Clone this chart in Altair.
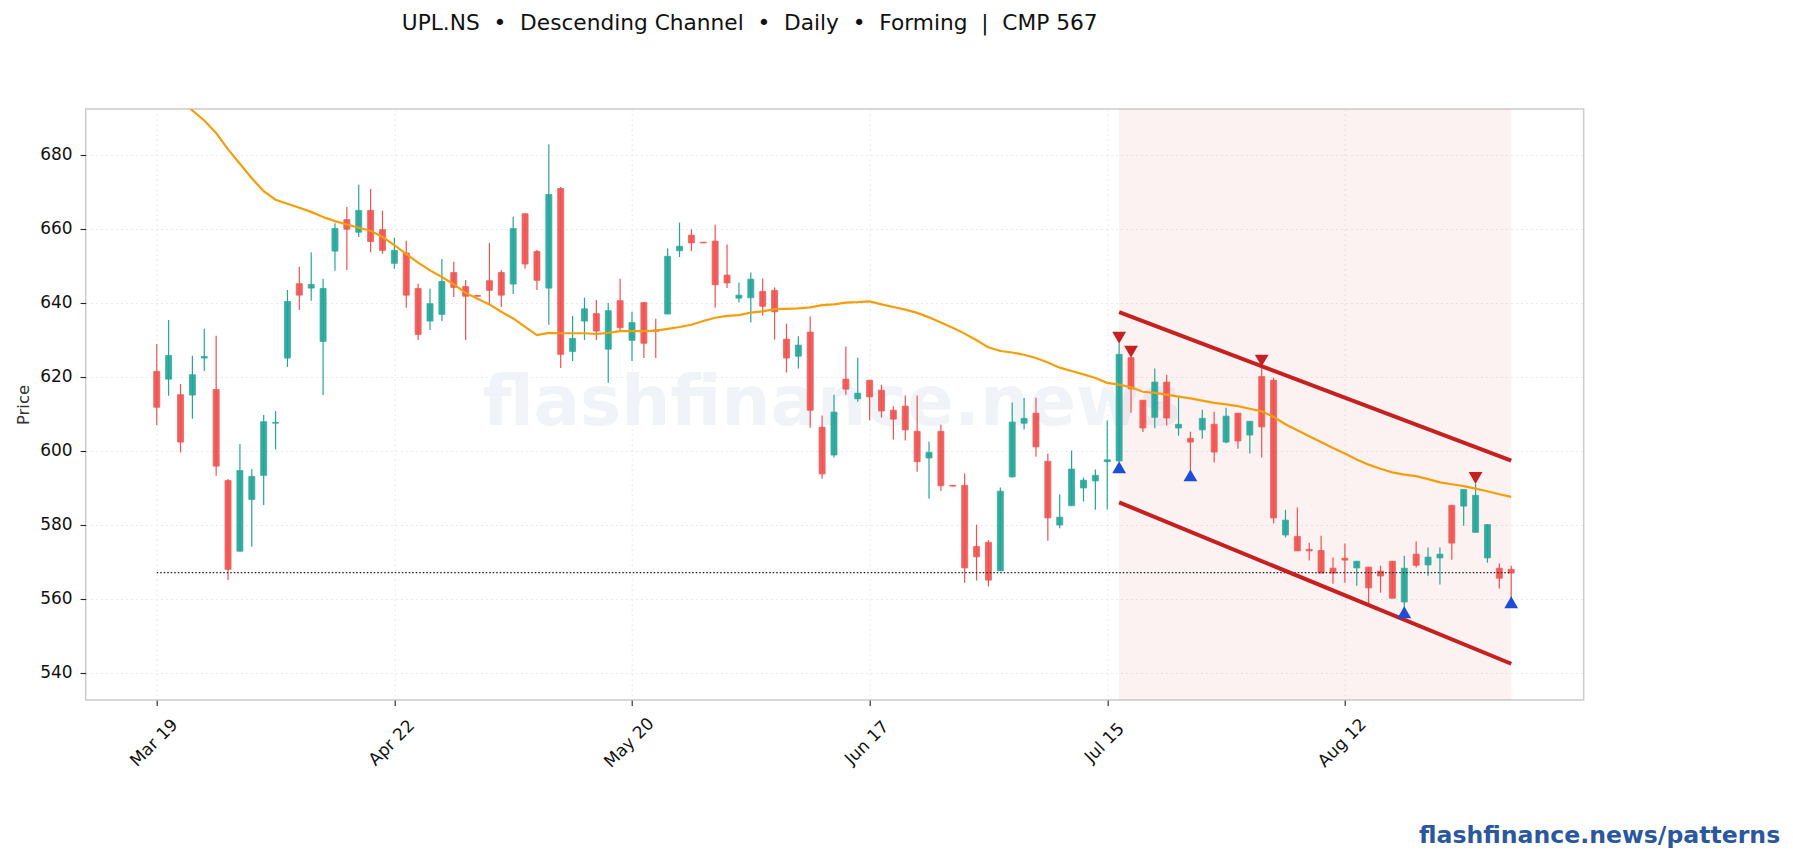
import json
import pandas as pd
import altair as alt

FONT = 'DejaVu Sans'
UP = '#26A69A'
DOWN = '#EF5350'

NB = '\u00a0'
TITLE = f'UPL.NS{NB}{NB}\u2022{NB}{NB}Descending Channel{NB}{NB}\u2022{NB}{NB}Daily{NB}{NB}\u2022{NB}{NB}Forming{NB}{NB}|{NB}{NB}CMP 567'
DATE_LABELS = ['Mar 19', 'Apr 22', 'May 20', 'Jun 17', 'Jul 15', 'Aug 12']
CMP = 567

# candle direction, one letter per session
dirs = list(
    'RGRGGRRGGGGGRGGGRGRRGRRGGRRRRRGRRGRGGRGRGRR'
    'GGRRRRGGRRRGRRGRGRRRRRGRRRRRGGGRRGGGGGGRRGRGRGRGRGRRGRRRRRGRRRGRGGRGGGRRRR'
)
highs = [628.8, 635.3, 618.0, 625.6, 632.9, 631.0, 592.3, 601.8, 595.0, 609.6,
         610.7, 643.4, 649.7, 653.6, 646.4, 661.4, 665.8, 671.8, 670.7, 664.8,
         657.5, 656.7, 645.1, 643.7, 651.8, 651.0, 646.1, 642.0, 656.1, 648.8,
         663.2, 664.0, 654.2, 682.7, 671.2, 636.4, 641.3, 640.7, 639.9, 646.4,
         637.5, 640.0, 635.6, 654.6, 661.6, 659.8, 656.3, 661.0, 655.7, 645.4,
         648.1, 646.5, 644.1, 634.3, 630.9, 636.2, 609.5, 615.1, 628.1, 625.1,
         619.0, 617.8, 612.0, 614.9, 614.9, 602.4, 607.0, 590.7, 593.8, 580.0,
         575.8, 590.0, 613.0, 614.3, 614.3, 599.2, 588.1, 600.0, 592.7, 594.9,
         608.1, 629.0, 625.2, 613.6, 622.2, 620.5, 614.3, 605.1, 611.0, 610.5,
         611.6, 610.1, 607.9, 622.4, 619.7, 584.0, 584.6, 575.1, 577.0, 571.1,
         574.9, 570.1, 568.5, 568.9, 570.1, 571.6, 575.4, 573.8, 573.8, 585.2,
         589.5, 591.0, 580.1, 569.5, 568.9]
lows = [606.9, 614.8, 599.5, 608.6, 621.5, 593.2, 565.0, 572.8, 574.0, 585.3,
        600.3, 622.6, 638.0, 640.5, 615.0, 648.6, 648.8, 657.7, 653.6, 653.2,
        649.1, 638.6, 629.9, 632.6, 635.0, 641.5, 629.9, 641.6, 639.5, 638.8,
        642.3, 649.1, 643.4, 634.0, 622.3, 624.2, 629.9, 629.9, 618.3, 632.4,
        624.2, 625.0, 625.0, 636.9, 652.3, 653.9, 656.1, 638.6, 643.9, 640.0,
        634.6, 636.4, 630.0, 621.1, 622.2, 606.2, 592.4, 598.1, 615.1, 613.2,
        608.2, 608.9, 603.0, 602.7, 594.3, 587.0, 589.1, 590.3, 564.3, 564.9,
        563.3, 567.5, 592.7, 605.7, 598.3, 575.6, 579.0, 585.1, 586.2, 584.0,
        584.1, 597.0, 610.2, 605.0, 606.0, 606.8, 604.0, 593.0, 603.2, 596.8,
        602.0, 600.5, 599.2, 598.1, 580.3, 576.5, 572.9, 570.3, 566.9, 564.0,
        564.3, 563.5, 558.6, 561.6, 560.1, 557.0, 568.4, 566.2, 563.8, 570.5,
        579.7, 577.9, 569.7, 562.7, 560.0]
tops = [621.4, 625.7, 615.1, 620.5, 625.4, 616.5, 591.9, 594.6, 593.0, 607.8,
        607.6, 640.3, 645.1, 644.9, 643.8, 660.0, 662.4, 664.9, 664.9, 659.7,
        654.1, 653.4, 643.8, 639.7, 645.7, 648.1, 644.3, 641.9, 645.9, 648.1,
        660.0, 664.0, 653.8, 669.2, 670.8, 630.3, 638.3, 637.0, 637.8, 640.5,
        634.6, 640.0, 632.6, 652.5, 655.2, 658.2, 656.3, 656.6, 647.4, 642.0,
        646.3, 643.0, 643.3, 630.1, 628.5, 632.0, 606.3, 610.4, 619.3, 615.5,
        619.0, 616.3, 610.9, 612.0, 605.2, 599.5, 605.2, 590.6, 590.6, 574.1,
        575.2, 589.0, 607.7, 608.7, 610.1, 597.1, 582.0, 595.0, 592.0, 593.3,
        597.5, 626.0, 625.1, 613.6, 618.5, 618.5, 607.1, 603.3, 608.7, 607.1,
        609.3, 610.1, 607.9, 620.0, 619.0, 581.2, 576.8, 573.3, 573.0, 568.2,
        570.9, 570.1, 568.5, 567.4, 570.1, 568.2, 572.0, 571.2, 572.0, 585.2,
        589.5, 587.9, 580.0, 568.2, 567.9]
bottoms = [611.7, 619.3, 602.3, 615.0, 625.0, 595.8, 567.9, 572.8, 586.8, 593.3,
           607.4, 625.0, 642.0, 643.9, 629.5, 653.9, 659.8, 659.0, 656.5, 654.1,
           650.6, 642.0, 631.4, 635.0, 636.8, 644.1, 641.7, 641.7, 643.3, 642.0,
           645.0, 650.4, 646.0, 643.9, 626.0, 626.8, 635.0, 632.3, 627.4, 633.2,
           629.8, 629.0, 632.2, 636.9, 654.0, 656.1, 656.1, 644.8, 645.3, 641.2,
           641.3, 639.0, 637.5, 625.0, 625.5, 610.9, 593.7, 598.8, 616.6, 614.0,
           614.5, 610.7, 608.5, 605.6, 597.0, 598.0, 590.5, 590.4, 568.3, 571.3,
           565.0, 567.5, 592.9, 607.4, 601.0, 581.8, 579.9, 585.1, 589.9, 591.8,
           597.0, 597.2, 616.7, 606.1, 609.0, 608.8, 606.1, 602.3, 605.6, 599.6,
           602.3, 602.6, 604.2, 606.4, 581.8, 577.2, 572.9, 572.9, 566.9, 566.9,
           570.4, 568.3, 562.9, 566.1, 560.1, 559.1, 569.0, 569.1, 571.0, 575.0,
           585.0, 577.9, 571.0, 565.5, 566.9]

# moving average starts at session 2, above the top of the frame
ema = [695.0, 691.9, 689.2, 685.8, 681.4, 677.5, 673.6, 670.1, 667.8, 666.7,
       665.6, 664.5, 663.1, 662.0, 661.1, 660.2, 659.4, 657.7, 655.5, 653.1,
       650.8, 648.7, 646.9, 644.9, 642.6, 641.0, 639.5, 637.5, 635.7, 633.4,
       631.2, 631.8, 631.7, 631.7, 631.7, 631.5, 631.8, 632.3, 632.3, 632.3,
       632.4, 632.9, 633.4, 634.0, 635.0, 635.9, 636.4, 636.6, 637.3, 637.6,
       638.2, 638.3, 638.4, 638.7, 639.3, 639.5, 640.0, 640.1, 640.3, 639.5,
       638.8, 638.1, 637.2, 636.0, 634.6, 633.2, 631.6, 629.8, 627.9, 626.9,
       626.5, 625.9, 625.0, 623.8, 622.4, 621.5, 620.6, 619.6, 618.3, 617.8,
       617.1, 615.9, 615.6, 615.1, 614.6, 614.1, 613.5, 612.9, 612.5, 612.0,
       611.3, 610.6, 609.1, 607.1, 605.5, 603.9, 602.3, 600.7, 599.2, 597.6,
       596.2, 595.1, 594.1, 593.5, 593.1, 592.3, 591.4, 590.9, 590.4, 589.7,
       589.0, 588.2, 587.5]

pattern_start, pattern_end = 81, 114
upper_line = [637.4, 597.3]
lower_line = [586.0, 542.4]
peak_i = [81, 82, 93, 111]
peak_p = [630.5, 626.7, 624.3, 592.6]
trough_i = [81, 87, 105, 114]
trough_p = [595.5, 593.3, 556.3, 559.0]

candles = pd.DataFrame({'i': range(len(highs)), 'high': highs, 'low': lows,
                        'top': tops, 'bottom': bottoms,
                        'dir': dirs[:len(highs)]})
ema_df = pd.DataFrame({'i': range(2, 2 + len(ema)), 'ema': ema})
band_df = pd.DataFrame({'i': [pattern_start], 'i2': [pattern_end]})
cmp_df = pd.DataFrame({'i': [0, 114], 'p': [CMP, CMP]})
chan_df = pd.DataFrame({'i': [pattern_start, pattern_end] * 2,
                        'p': upper_line + lower_line,
                        'side': ['upper', 'upper', 'lower', 'lower']})
peaks = pd.DataFrame({'i': peak_i, 'p': peak_p})
troughs = pd.DataFrame({'i': trough_i, 'p': trough_p})

# padding=0: bars with a fixed size otherwise pad the continuous x scale
x_scale = alt.Scale(domain=[-5.98, 120.1], nice=False, zero=False, padding=0)
y_scale = alt.Scale(domain=[532.6, 692.3], nice=False, zero=False)
x_axis = alt.Axis(
    title=None, values=[0, 20, 40, 60, 80, 100],
    labelExpr=json.dumps(DATE_LABELS) + '[datum.value / 20]',
    labelAngle=-45, labelAlign='center', labelBaseline='middle', labelPadding=37,
    labelOffset=-3, labelFontSize=17, labelColor='#111111', tickColor='#222222',
    tickSize=5.6, tickWidth=1.1, domain=False, grid=True, gridColor='#E4E4E4',
    gridDash=[1.5, 3.5], gridWidth=1,
)
y_axis = alt.Axis(
    title='Price', values=list(range(540, 681, 20)), labelFontSize=17,
    labelColor='#111111', labelPadding=8, tickColor='#222222', tickSize=5.6,
    tickWidth=1.1, domain=False, grid=True, gridColor='#E4E4E4',
    gridDash=[1.5, 3.5], gridWidth=1, titleFontSize=16.5, titleColor='#333333',
    titleFontWeight='normal', titlePadding=8,
)


def X(field='i'):
    return alt.X(f'{field}:Q', scale=x_scale, axis=x_axis)


def Y(field):
    return alt.Y(f'{field}:Q', scale=y_scale, axis=y_axis)


dir_color = alt.Color('dir:N', scale=alt.Scale(domain=['R', 'G'], range=[DOWN, UP]), legend=None)
dir_stroke = alt.Stroke('dir:N', scale=alt.Scale(domain=['R', 'G'], range=[DOWN, UP]), legend=None)

watermark = alt.Chart(pd.DataFrame({'i': [56.8], 'p': [612.5]})).mark_text(
    text='flashfinance.news', font=FONT, fontWeight='bold', fontSize=69,
    color='#F0F3F8', align='center', baseline='middle',
).encode(x=X(), y=Y('p'))

band = alt.Chart(band_df).mark_rect(color='#C62828', opacity=0.06).encode(
    x=X(), x2='i2:Q',
)

wicks = alt.Chart(candles).mark_rule(strokeWidth=1.2).encode(
    x=X(), y=Y('low'), y2='high:Q', color=dir_color,
)
bodies = alt.Chart(candles).mark_bar(size=6, strokeWidth=0.8, opacity=0.92).encode(
    x=X(), y=Y('bottom'), y2='top:Q', color=dir_color, stroke=dir_stroke,
)

cmp_line = alt.Chart(cmp_df).mark_line(
    color='#222222', strokeWidth=1.2, strokeDash=[1.5, 2], clip=True,
).encode(x=X(), y=Y('p'))

ema_line = alt.Chart(ema_df).mark_line(color='#F59E0B', strokeWidth=2.2, clip=True).encode(
    x=X(), y=Y('ema'),
)

channel = alt.Chart(chan_df).mark_line(color='#C62020', strokeWidth=4).encode(
    x=X(), y=Y('p'), detail='side:N',
)

peak_marks = alt.Chart(peaks).mark_point(
    shape='triangle-down', size=190, filled=True, color='#C62020', opacity=1,
).encode(x=X(), y=Y('p'))
trough_marks = alt.Chart(troughs).mark_point(
    shape='triangle-up', size=190, filled=True, color='#1D4ED8', opacity=1,
).encode(x=X(), y=Y('p'))

footer = alt.Chart(pd.DataFrame({'t': ['flashfinance.news/patterns']})).mark_text(
    font=FONT, fontWeight='bold', fontSize=23.6, color='#2B579F', align='right',
    baseline='alphabetic',
).encode(text='t:N', x=alt.value(1694.5), y=alt.value(734))

chart = alt.layer(
    watermark, band, wicks, bodies, cmp_line, ema_line, channel,
    peak_marks, trough_marks, footer,
).properties(
    width=1498, height=591,
    autosize=alt.AutoSizeParams(type='none'),
    padding={'left': 77.7, 'top': 101, 'right': 200, 'bottom': 149},
    title=alt.TitleParams(
        TITLE, anchor='middle', dx=-85, offset=74, font=FONT, fontSize=21.7,
        fontWeight='normal', color='#111111',
    ),
).configure_view(
    stroke='#CCCCCC', strokeWidth=1.5,
).configure_axis(
    labelFont=FONT, titleFont=FONT,
)

chart.save('out.html', embed_options={'renderer': 'svg', 'actions': False})
